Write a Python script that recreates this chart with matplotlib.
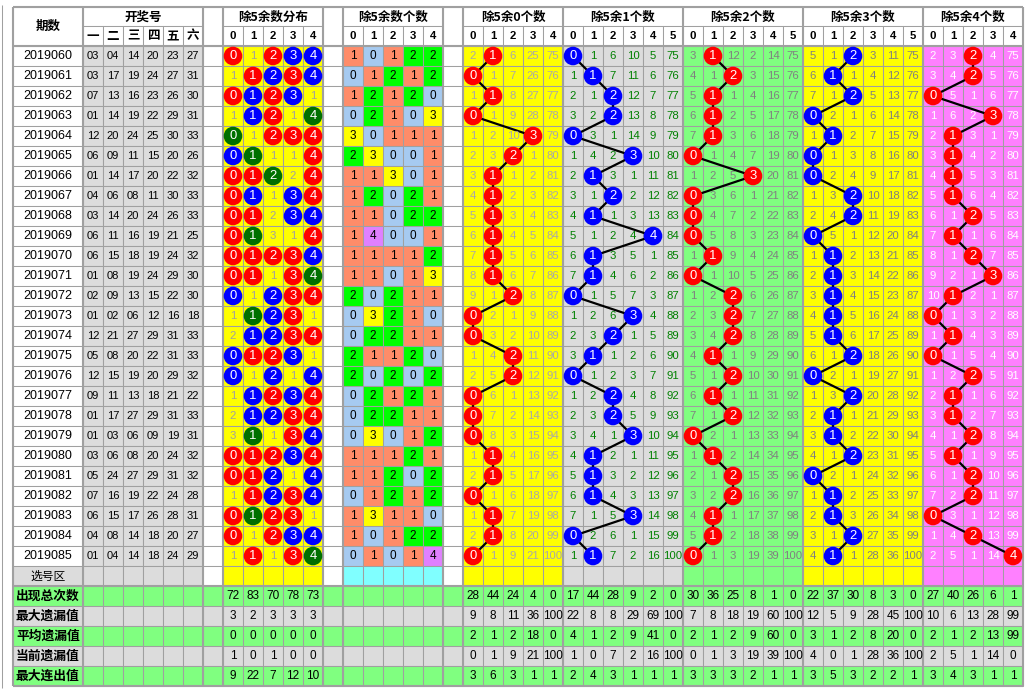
import matplotlib
matplotlib.use('Agg')
import matplotlib.pyplot as plt
from matplotlib import font_manager
from matplotlib.patches import Rectangle, Circle

issues = ['2019060', '2019061', '2019062', '2019063', '2019064', '2019065',
          '2019066', '2019067', '2019068', '2019069', '2019070', '2019071',
          '2019072', '2019073', '2019074', '2019075', '2019076', '2019077',
          '2019078', '2019079', '2019080', '2019081', '2019082', '2019083',
          '2019084', '2019085']
draws = [
    [3, 4, 14, 20, 23, 27], [3, 17, 19, 24, 27, 31], [7, 13, 16, 23, 26, 30],
    [1, 14, 19, 22, 29, 31], [12, 20, 24, 25, 30, 33], [6, 9, 11, 15, 20, 26],
    [1, 14, 17, 20, 22, 32], [4, 6, 8, 11, 30, 33], [3, 14, 20, 24, 26, 33],
    [6, 11, 16, 19, 21, 25], [6, 15, 18, 19, 24, 32], [1, 8, 19, 24, 29, 30],
    [2, 9, 13, 15, 22, 30], [1, 2, 6, 12, 16, 18], [12, 21, 27, 29, 31, 33],
    [5, 8, 20, 22, 31, 33], [12, 15, 19, 20, 29, 32], [9, 11, 13, 18, 21, 22],
    [1, 17, 27, 29, 31, 33], [1, 3, 6, 9, 19, 31], [3, 6, 8, 20, 24, 32],
    [5, 24, 27, 29, 31, 32], [7, 16, 19, 22, 24, 28], [6, 15, 17, 26, 28, 31],
    [4, 8, 14, 18, 20, 27], [1, 4, 14, 18, 24, 29],
]
draw_heads = ['一', '二', '三', '四', '五', '六']

# omission values shown in the first row (None where the cell is a hit)
dist_first = [None, 1, None, None, None]
m0_first = [2, None, 6, 25, 75]
m1_first = [None, 1, 6, 10, 5, 75]
m2_first = [3, None, 12, 2, 14, 75]
m3_first = [5, 1, None, 3, 11, 75]
m4_first = [2, 3, None, 4, 75]

stat_labels = ['出现总次数', '最大遗漏值', '平均遗漏值', '当前遗漏值', '最大连出值']
dist_stats = [[72, 83, 70, 78, 73], [3, 2, 3, 3, 3], [0, 0, 0, 0, 0],
              [1, 0, 1, 0, 0], [9, 22, 7, 12, 10]]
m0_stats = [[28, 44, 24, 4, 0], [9, 8, 11, 36, 100], [2, 1, 2, 18, 0],
            [0, 1, 9, 21, 100], [3, 6, 3, 1, 1]]
m1_stats = [[17, 44, 28, 9, 2, 0], [22, 8, 8, 29, 69, 100], [4, 1, 2, 9, 41, 0],
            [1, 0, 7, 2, 16, 100], [2, 4, 3, 1, 1, 1]]
m2_stats = [[30, 36, 25, 8, 1, 0], [7, 8, 18, 19, 60, 100], [2, 1, 2, 9, 60, 0],
            [0, 1, 3, 19, 39, 100], [3, 3, 3, 2, 1, 1]]
m3_stats = [[22, 37, 30, 8, 3, 0], [12, 5, 9, 28, 45, 100], [3, 1, 2, 8, 20, 0],
            [4, 0, 1, 28, 36, 100], [3, 5, 3, 2, 2, 1]]
m4_stats = [[27, 40, 26, 6, 1], [10, 6, 13, 28, 99], [2, 1, 2, 13, 99],
            [2, 5, 1, 14, 0], [3, 4, 3, 1, 1]]

# colours
GRID = '#A0A0A0'
YELLOW = '#FFFF00'
GRAY = '#DCDCDC'
GREEN = '#80FF80'
VIOLET = '#FF80FF'
CYAN = '#80FFFF'
COUNT_COLORS = {0: '#A6CAF0', 1: '#FF8C69', 2: '#00FF00', 3: '#FFFF00', 4: '#E080FF'}

names = {f.name for f in font_manager.fontManager.ttflist}
if 'Liberation Sans Narrow' in names:
    NUM, SC = 'Liberation Sans Narrow', 1.0
elif 'Liberation Sans' in names:
    NUM, SC = 'Liberation Sans', 0.86
else:
    NUM, SC = 'DejaVu Sans', 0.75
CJK = ['Noto Sans CJK SC', 'DejaVu Sans']

counts = [[sum(1 for n in row if n % 5 == r) for r in range(5)] for row in draws]


def omissions(hits, first):
    out = []
    for i, row in enumerate(hits):
        cur = []
        for j, h in enumerate(row):
            if h:
                cur.append(0)
            elif i == 0:
                cur.append(first[j])
            else:
                cur.append(out[i - 1][j] + 1)
        out.append(cur)
    return out


groups = {
    'dist': dict(n=5, first=dist_first, stats=dist_stats, bg=YELLOW, fg='#A0A0A0'),
    'm0': dict(n=5, first=m0_first, stats=m0_stats, bg=YELLOW, fg='#A8A8A8', ball='#FF0000'),
    'm1': dict(n=6, first=m1_first, stats=m1_stats, bg=GRAY, fg='#008000', ball='#0000FF'),
    'm2': dict(n=6, first=m2_first, stats=m2_stats, bg=GREEN, fg='#808080', ball='#FF0000'),
    'm3': dict(n=6, first=m3_first, stats=m3_stats, bg=YELLOW, fg='#808080', ball='#0000FF'),
    'm4': dict(n=5, first=m4_first, stats=m4_stats, bg=VIOLET, fg='white', ball='#FF0000'),
}
groups['dist']['hits'] = [[c[j] > 0 for j in range(5)] for c in counts]
for k in range(5):
    g = groups['m%d' % k]
    g['hits'] = [[c[k] == j for j in range(g['n'])] for c in counts]
for g in groups.values():
    g['omit'] = omissions(g['hits'], g['first'])

titles = {'draw': '开奖号', 'dist': '除5余数分布', 'cnt': '除5余数个数',
          'm0': '除5余0个数', 'm1': '除5余1个数', 'm2': '除5余2个数',
          'm3': '除5余3个数', 'm4': '除5余4个数'}

# layout in pixels
X0 = 13
HEAD_TOP, HEAD_MID, DATA_TOP, RH = 7, 26, 46, 20
blocks = [('issue', 1, 70), ('draw', 6, 20), ('gap', 1, 20), ('dist', 5, 20),
          ('gap', 1, 20), ('cnt', 5, 20), ('gap', 1, 20), ('m0', 5, 20),
          ('m1', 6, 20), ('m2', 6, 20), ('m3', 6, 20), ('m4', 5, 20)]
cols = []
spans = []
x = X0
for name, n, w in blocks:
    start = x
    for j in range(n):
        cols.append((name, j, x, w))
        x += w
    spans.append((name, start, x))
X1 = x
nrows = len(issues)
PICK_TOP = DATA_TOP + RH * nrows
STAT_TOP = PICK_TOP + RH
BOTTOM = STAT_TOP + RH * len(stat_labels)

fig = plt.figure(figsize=(10.32, 6.98), dpi=100)
ax = fig.add_axes([0, 0, 1, 1])
ax.set_xlim(0, 1032)
ax.set_ylim(698, 0)
ax.axis('off')


def cell(x, y, w, h, fc):
    ax.add_patch(Rectangle((x, y), w, h, facecolor=fc, edgecolor=GRID, lw=0.75, zorder=1))


def txt(x, y, s, size=9.3, color='black', family=None, weight='normal', ha='center'):
    ax.text(x, y, s, ha=ha, va='center', fontsize=size, color=color,
            family=family or NUM, weight=weight, zorder=5)


# header
for name, xa, xb in spans:
    if name in ('issue', 'gap'):
        cell(xa, HEAD_TOP, xb - xa, DATA_TOP - HEAD_TOP, 'white')
        if name == 'issue':
            txt((xa + xb) / 2, (HEAD_TOP + DATA_TOP) / 2, '期数', 9, family=CJK, weight='bold')
        continue
    cell(xa, HEAD_TOP, xb - xa, HEAD_MID - HEAD_TOP, 'white')
    txt((xa + xb) / 2, (HEAD_TOP + HEAD_MID) / 2 + 0.5, titles[name], 9, family=CJK, weight='bold')
for name, j, cx, w in cols:
    if name in ('issue', 'gap'):
        continue
    cell(cx, HEAD_MID, w, DATA_TOP - HEAD_MID, 'white')
    if name == 'draw':
        txt(cx + w / 2, (HEAD_MID + DATA_TOP) / 2, draw_heads[j], 9, family=CJK, weight='bold')
    else:
        txt(cx + w / 2, (HEAD_MID + DATA_TOP) / 2, str(j), 9.5 * SC, weight='bold')

# data rows
centers = {k: [] for k in groups}
for i in range(nrows):
    y = DATA_TOP + RH * i
    cy = y + RH / 2
    for name, j, cx, w in cols:
        xm = cx + w / 2
        if name == 'issue':
            cell(cx, y, w, RH, 'white')
            txt(xm, cy, issues[i], 10.5 * SC)
        elif name == 'draw':
            cell(cx, y, w, RH, GRAY)
            txt(xm, cy, '%02d' % draws[i][j], 9.3 * SC)
        elif name == 'gap':
            cell(cx, y, w, RH, 'white')
        elif name == 'cnt':
            cell(cx, y, w, RH, COUNT_COLORS[counts[i][j]])
            txt(xm, cy, str(counts[i][j]), 9.8 * SC)
        else:
            g = groups[name]
            cell(cx, y, w, RH, g['bg'])
            if g['hits'][i][j]:
                if name == 'dist':
                    c = counts[i][j]
                    ball = '#FF0000' if c == 1 else ('#0000FF' if c == 2 else '#007000')
                else:
                    ball = g['ball']
                    centers[name].append((xm, cy))
                ax.add_patch(Circle((xm, cy), 9.3, facecolor=ball, edgecolor='none', zorder=4))
                txt(xm, cy, str(j), 11 * SC, color='white')
            else:
                txt(xm, cy, str(g['omit'][i][j]), 9.5 * SC, color=g['fg'])

for name, pts in centers.items():
    ax.plot([p[0] for p in pts], [p[1] for p in pts], color='black', lw=1.6, zorder=3)

# pick row
pick_bg = {'issue': GRAY, 'draw': GRAY, 'gap': 'white', 'dist': YELLOW, 'cnt': CYAN,
           'm0': YELLOW, 'm1': GRAY, 'm2': GREEN, 'm3': YELLOW, 'm4': VIOLET}
for name, j, cx, w in cols:
    cell(cx, PICK_TOP, w, RH, pick_bg[name])
txt(X0 + 35, PICK_TOP + RH / 2, '选号区', 8.5, family=CJK)

# statistics rows
for k, label in enumerate(stat_labels):
    y = STAT_TOP + RH * k
    fc = GREEN if k % 2 == 0 else GRAY
    for name, j, cx, w in cols:
        cell(cx, y, w, RH, fc)
        if name in groups:
            txt(cx + w / 2, y + RH / 2, str(groups[name]['stats'][k][j]), 9.8 * SC)
    txt(X0 + 3, y + RH / 2, label, 9.2, family=CJK, weight='bold', ha='left')

# heavier separators
for name, xa, xb in spans:
    ax.vlines(xa, HEAD_TOP, BOTTOM, color=GRID, lw=1.5, zorder=2)
ax.vlines(X1, HEAD_TOP, BOTTOM, color=GRID, lw=1.5, zorder=2)
ax.hlines([HEAD_TOP, DATA_TOP, STAT_TOP, BOTTOM], X0, X1, color=GRID, lw=1.5, zorder=2)
ax.vlines(1.5, 5, BOTTOM + 2, color=GRID, lw=0.75)

fig.savefig('out.png', dpi=100)
